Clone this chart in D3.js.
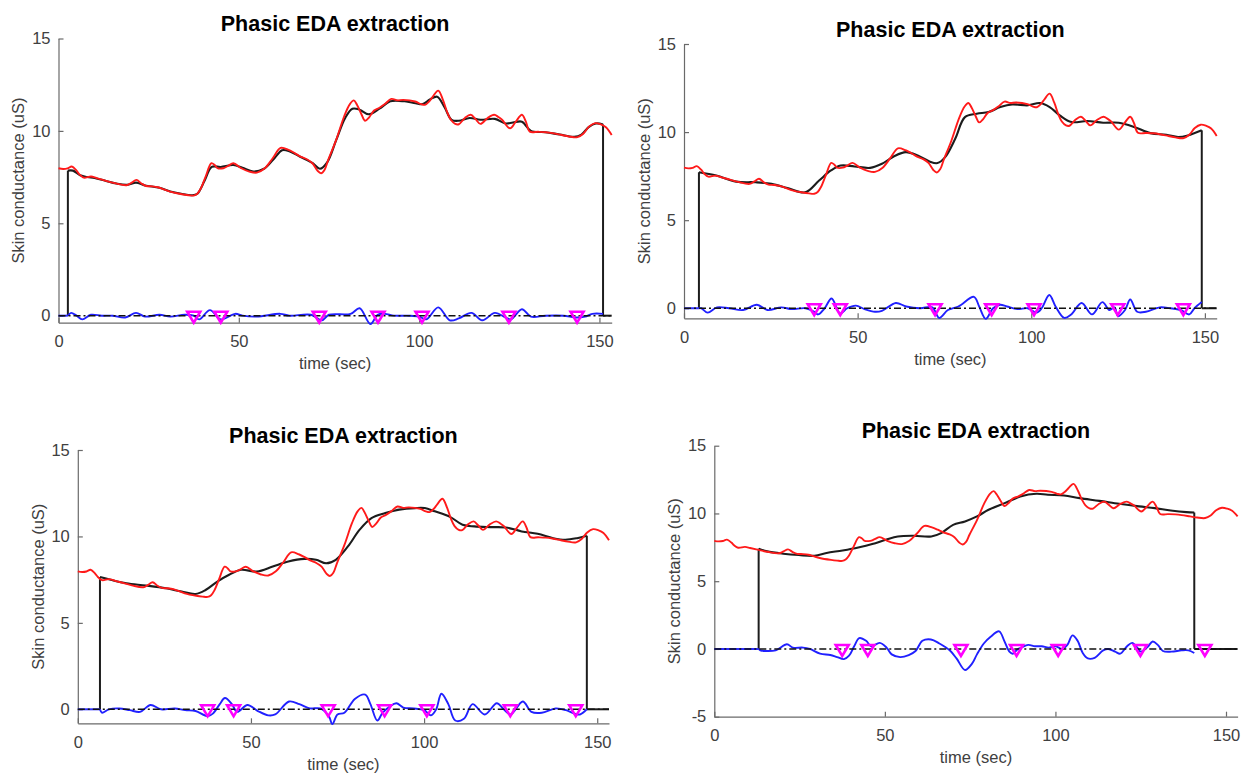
<!DOCTYPE html>
<html><head><meta charset="utf-8">
<script src="https://cdn.jsdelivr.net/npm/d3@7"></script>
<style>body{margin:0;background:#fff} svg text{font-family:"Liberation Sans",Arial,Helvetica,sans-serif}</style>
</head><body><svg id="c" width="1245" height="775"></svg>
<script>
// ---------------- DATA ----------------
const chartTitle = "Phasic EDA extraction";
const xLabel = "time (sec)";
const yLabel = "Skin conductance (uS)";
const xTicks = [0, 50, 100, 150];
const yTicksA = [0, 5, 10, 15];
const yTicksB = [-5, 0, 5, 10, 15];
const xMax = 153.4;
const yMins = [-0.38, -0.57, -0.81, -5];
const onsetTimes = [37.5, 45, 72.3, 88.6, 100.8, 124.9, 143.8];
const windows = [[2.6, 151], [4.3, 149.1], [6.4, 147.0], [13, 140.7]];

// raw skin conductance (same recording in every panel)
const rawSC = [[0,7.98],[1.3,7.94],[2.5,7.97],[3.7,8.07],[5.0,7.85],[5.8,7.65],[7,7.47],[9,7.53],[10.5,7.45],[12.3,7.35],[15.6,7.17],[18.9,7.06],[20.3,7.2],[21.6,7.35],[23,7.15],[24.3,7.02],[26,7.0],[27.6,6.95],[29,6.85],[30.9,6.71],[34.2,6.57],[36,6.52],[37.5,6.5],[38.5,6.6],[39.5,6.9],[40.8,7.53],[42.4,8.25],[43.3,8.15],[44.1,7.98],[45.7,7.98],[47,8.1],[48.5,8.25],[50.7,7.98],[52.9,7.8],[55,7.74],[57.2,7.98],[59.4,8.52],[61.6,9.08],[63.8,8.97],[65.5,8.8],[67.1,8.61],[69,8.45],[70.4,8.25],[71.8,7.85],[72.8,7.71],[73.8,7.9],[74.8,8.43],[77,9.51],[79.2,10.78],[80.8,11.45],[81.9,11.65],[82.8,11.4],[84,10.9],[85,10.55],[86.2,10.75],[87.5,11.1],[89,11.25],[90.5,11.45],[92.3,11.73],[94,11.65],[95.6,11.68],[98.9,11.59],[100.5,11.45],[101.6,11.41],[102.8,11.6],[103.8,11.86],[105.3,12.18],[106.6,11.68],[107.8,11.0],[108.8,10.6],[110,10.38],[111,10.36],[112.7,10.7],[114.3,10.87],[115.6,10.65],[117,10.38],[119,10.7],[120.8,10.87],[122,10.75],[123,10.6],[125.2,10.14],[126.8,10.5],[128.5,10.87],[129.6,10.5],[130.7,9.96],[133,9.95],[135.1,9.93],[137,9.88],[139.5,9.78],[141.5,9.7],[143.9,9.66],[145.5,9.85],[147.1,10.23],[148.8,10.42],[150.4,10.35],[151.8,10.2],[153.4,9.78]];

// tonic estimates (one per panel)
const tonic1 = [[2.6,7.85],[4,7.85],[6,7.6],[8,7.5],[10,7.45],[13,7.3],[16,7.15],[19,7.08],[21.5,7.2],[24,7.05],[28,6.92],[31,6.72],[34,6.6],[37,6.52],[38.5,6.6],[40.5,7.3],[42.5,8.05],[45,8.05],[48.5,8.15],[51,8.0],[54,7.8],[57,7.95],[60,8.55],[62,8.95],[64,8.9],[67,8.6],[70.5,8.25],[72.5,7.95],[74.5,8.3],[77,9.5],[79.5,10.7],[81.5,11.2],[83.5,11.15],[86,10.9],[89,11.2],[92,11.6],[96,11.6],[99,11.5],[101,11.45],[103,11.7],[105,11.85],[107,11.3],[109,10.6],[111,10.55],[114,10.7],[117,10.6],[121,10.65],[124,10.4],[126,10.45],[128.5,10.5],[131,10.0],[135,9.93],[139,9.8],[143,9.68],[145,9.8],[147,10.2],[149,10.4],[151,10.35]];
const tonic2 = [[4.3,7.72],[9.3,7.53],[15,7.19],[20.7,7.15],[25.2,7.06],[29.8,6.83],[34.9,6.58],[38.9,7.25],[42.3,7.82],[45.1,8.1],[49.1,8.05],[53.6,7.97],[57,8.2],[60.5,8.63],[63.9,8.86],[67.3,8.67],[70.7,8.33],[73,8.24],[75.2,8.58],[78.1,9.62],[80.9,10.85],[84.3,11.04],[87.7,11.14],[91.1,11.42],[94.5,11.57],[99.1,11.52],[102.5,11.65],[105.3,11.42],[108.2,10.95],[111.6,10.57],[116.1,10.63],[120.7,10.53],[125.2,10.53],[129.8,10.28],[134.3,9.94],[138.9,9.85],[142.3,9.72],[145.1,9.81],[149.1,10.1]];
const tonic3 = [[6.4,7.65],[9.5,7.49],[14,7.29],[19.7,7.16],[25.5,7.0],[30,6.81],[34,6.67],[36.9,6.9],[40.3,7.39],[43.7,7.78],[47.1,8.07],[51.7,7.97],[56.3,8.26],[60.8,8.55],[65.4,8.7],[68.8,8.65],[71.7,8.45],[74.5,8.65],[78,9.42],[81.4,10.39],[84.8,11.06],[88.8,11.35],[92.8,11.55],[97.4,11.64],[100.2,11.64],[103.1,11.45],[107.6,11.12],[111.1,10.68],[114.5,10.58],[119.1,10.54],[123.6,10.52],[128.2,10.29],[132.8,10.15],[137.3,9.9],[140.8,9.81],[144.2,9.9],[147.0,10.04]];
const tonic4 = [[13,7.4],[15.5,7.2],[20.2,7.03],[24.8,6.93],[29.4,6.88],[32.9,7.08],[37.6,7.27],[42.2,7.49],[46.3,7.74],[50.3,8.06],[53.8,8.3],[58.4,8.35],[63.6,8.3],[66.5,8.55],[70,9.16],[73.5,9.41],[77,9.78],[80.4,10.27],[85.1,10.76],[89.7,11.25],[94.4,11.45],[97.8,11.38],[102.5,11.33],[107.1,11.13],[112.9,10.93],[118.7,10.71],[124.5,10.52],[129.1,10.39],[133.8,10.22],[138.4,10.1],[140.7,10.07]];

// phasic components (one per panel)
const phasic1 = [[2.6,0],[3.5,0.15],[5,0.0],[6.6,-0.2],[9,0.05],[12,0],[15,0],[18.5,-0.1],[21.5,0.15],[24,-0.05],[28,0.05],[31,-0.05],[35,0.05],[37.5,0],[39,-0.2],[42,0.3],[45,-0.2],[49,0.1],[51,0],[55,-0.05],[61.5,0.1],[64,0],[70,0.05],[73,-0.25],[75,0.05],[81,0.1],[83.5,0.4],[86.5,-0.45],[88.5,0.05],[90.5,0.1],[93,0],[97,0],[100,-0.05],[102,-0.2],[105.3,0.45],[108.5,-0.25],[111,-0.15],[114.5,0.15],[117.5,-0.25],[121,0.15],[124,-0.1],[125.5,-0.2],[128.5,0.35],[131,-0.05],[135,0],[140,0],[143.5,-0.1],[146,-0.05],[148,0.1],[151,0.1]];
const phasic2 = [[4.3,0],[5,0],[6.8,-0.25],[9.5,0.05],[13,0],[17,-0.1],[21,0.2],[24,-0.1],[28,0.05],[31,-0.05],[35,0],[37.5,-0.2],[38.6,-0.35],[40.5,0],[42.5,0.55],[45,-0.3],[47,0],[49.5,0.15],[52,-0.05],[55,-0.2],[57,-0.15],[61,0.3],[64,0.1],[68,0],[71.5,0.05],[73.5,-0.55],[76,-0.1],[79,0.1],[83.5,0.65],[85,0.1],[86.9,-0.6],[89,0],[91,0.2],[93,0.1],[96,-0.05],[99,0],[101.5,-0.25],[103,0],[105.2,0.75],[107,0.1],[109.5,-0.55],[111.5,-0.35],[114.5,0.3],[117.5,-0.35],[120.5,0.35],[122.5,-0.1],[124,0.05],[125,-0.45],[127,-0.1],[128.5,0.5],[130.5,-0.2],[133,-0.2],[137,0.05],[140,0],[143,-0.1],[145.5,-0.35],[147,0],[149.1,0.35]];
const phasic3 = [[6.4,0],[7,-0.2],[9,0],[12,0.05],[15,-0.05],[18,-0.15],[21,0.25],[24,0],[28,0.05],[31,-0.05],[34,-0.1],[37.5,-0.4],[39,-0.25],[41,0.3],[42.5,0.65],[44.5,0.3],[46,-0.15],[49,0.25],[52,-0.1],[55,-0.35],[57,-0.3],[61,0.45],[64,0.3],[67,0.05],[70,0.05],[72.5,-0.4],[73.5,-0.85],[75,-0.3],[77,-0.2],[80,0.6],[83,0.85],[84.5,0.3],[86.5,-0.65],[88,-0.2],[90,0.15],[92,0.35],[94,0.1],[97,0.05],[100,-0.05],[102,-0.35],[103.5,0],[105,0.9],[107,0.3],[109,-0.65],[111.5,-0.55],[114,0.3],[117.5,-0.3],[121,0.35],[123,0],[125,-0.3],[128.5,0.45],[131,-0.15],[134,-0.2],[138,0.05],[141,-0.05],[143.5,-0.25],[145,-0.3],[147,0]];
const phasic4 = [[13,0],[13.5,-0.1],[15,-0.15],[18,-0.1],[21.3,0.35],[23,0.1],[26,0.1],[28,0],[31,-0.35],[34,-0.45],[36,-0.6],[38,-0.75],[39.5,-0.5],[41,0.2],[42.5,0.8],[44.5,0.6],[46,0.2],[48.5,0.45],[50.5,0.1],[52,-0.4],[54.5,-0.6],[57,-0.45],[59,-0.15],[61,0.6],[63.5,0.7],[66,0.4],[69,-0.1],[71,-0.7],[73.5,-1.55],[75.5,-1.1],[77,-0.4],[79,0.4],[81,0.9],[83.5,1.3],[85,0.6],[86.5,-0.2],[87.5,-0.35],[89,0],[90,0.1],[92,0.3],[94,0.2],[96,0.2],[98,0.1],[100,0.2],[102,0],[103.5,0.3],[105,1.0],[106.5,0.6],[108,-0.3],[109.5,-0.7],[111.5,-0.65],[114,-0.1],[115.5,0],[117.5,-0.2],[119,-0.35],[121,0.2],[122.5,0.45],[124,0.1],[125,-0.2],[127,0.15],[128.5,0.55],[130,0.3],[131.5,-0.15],[134,-0.2],[137,-0.1],[139,-0.1],[140.7,-0.3]];

const tonics = [tonic1, tonic2, tonic3, tonic4];
const phasics = [phasic1, phasic2, phasic3, phasic4];

// ---------------- LAYOUT ----------------
const frames = [
  {left:58.5, right:611.7, top:38.5, bottom:322.7},
  {left:684, right:1216.7, top:44, bottom:318.3},
  {left:77.8, right:609, top:450, bottom:723.3},
  {left:714.3, right:1237.6, top:445.7, bottom:716.7}
];

const svg = d3.select("#c");
const curve = d3.curveCatmullRom.alpha(0.5);

frames.forEach((f, i) => {
  const x = d3.scaleLinear().domain([0, xMax]).range([f.left, f.right]);
  const y = d3.scaleLinear().domain([yMins[i], 15]).range([f.bottom, f.top]);
  const g = svg.append("g");
  const line = d3.line().x(d => x(d[0])).y(d => y(d[1])).curve(curve);
  const win = windows[i];
  const ton = tonics[i];

  // axes
  const ax = g.append("g").attr("transform", `translate(0,${f.bottom})`)
    .call(d3.axisBottom(x).tickValues(xTicks).tickFormat(d => String(d))
      .tickSizeInner(-5).tickSizeOuter(0).tickPadding(13));
  const ay = g.append("g").attr("transform", `translate(${f.left},0)`)
    .call(d3.axisLeft(y).tickValues(i === 3 ? yTicksB : yTicksA).tickFormat(d => String(d))
      .tickSizeInner(-5).tickSizeOuter(0).tickPadding(8));
  [ax, ay].forEach(a => {
    a.selectAll("path,line").attr("stroke", "#6a6a6a").attr("stroke-width", 1.2);
    a.selectAll("text").attr("fill", "#404040").attr("font-size", 16.5);
  });

  // tonic (black)
  g.append("path").datum(ton).attr("d", line)
    .attr("fill", "none").attr("stroke", "#1c1c1c").attr("stroke-width", 2.1);
  const vline = (t, v) => g.append("line")
    .attr("x1", x(t)).attr("x2", x(t)).attr("y1", y(0)).attr("y2", y(v))
    .attr("stroke", "#1c1c1c").attr("stroke-width", 2);
  vline(win[0], ton[0][1]);
  vline(win[1], ton[ton.length - 1][1]);

  // raw signal (red)
  g.append("path").datum(rawSC).attr("d", line)
    .attr("fill", "none").attr("stroke", "#ff1a1a").attr("stroke-width", 1.9);

  // zero segments outside the window
  g.append("line").attr("x1", x(0)).attr("x2", x(win[0])).attr("y1", y(0)).attr("y2", y(0))
    .attr("stroke", "#2b2bff").attr("stroke-width", 2);
  g.append("line").attr("x1", x(win[1])).attr("x2", x(xMax)).attr("y1", y(0)).attr("y2", y(0))
    .attr("stroke", "#1c1c1c").attr("stroke-width", 2);

  // phasic (blue)
  g.append("path").datum(phasics[i]).attr("d", line)
    .attr("fill", "none").attr("stroke", "#2020ff").attr("stroke-width", 1.9);

  // dash-dot zero line
  g.append("line").attr("x1", x(0)).attr("x2", x(xMax)).attr("y1", y(0)).attr("y2", y(0))
    .attr("stroke", "#111").attr("stroke-width", 1.6).attr("stroke-dasharray", "7,3,2,3");

  // onset markers
  g.selectAll(".tri").data(onsetTimes).enter().append("path")
    .attr("transform", t => `translate(${x(t)},${y(0)})`)
    .attr("d", "M-6.5,-4L6.5,-4L0,7Z")
    .attr("fill", "none").attr("stroke", "#ff00ff").attr("stroke-width", 2.6)
    .attr("stroke-linejoin", "miter");

  // titles & labels
  const cx = (f.left + f.right) / 2;
  g.append("text").attr("x", cx).attr("y", f.top - 15).attr("dy", "0.35em")
    .attr("text-anchor", "middle").attr("font-weight", "bold").attr("font-size", 21.5)
    .attr("fill", "#000").text(chartTitle);
  g.append("text").attr("x", cx).attr("y", f.bottom + 41).attr("dy", "0.35em")
    .attr("text-anchor", "middle").attr("font-size", 16.5).attr("fill", "#404040").text(xLabel);
  g.append("text").attr("transform", `translate(${f.left - 40},${(f.top + f.bottom) / 2}) rotate(-90)`)
    .attr("dy", "0.35em").attr("text-anchor", "middle").attr("font-size", 16.5)
    .attr("fill", "#404040").text(yLabel);
});
</script></body></html>
